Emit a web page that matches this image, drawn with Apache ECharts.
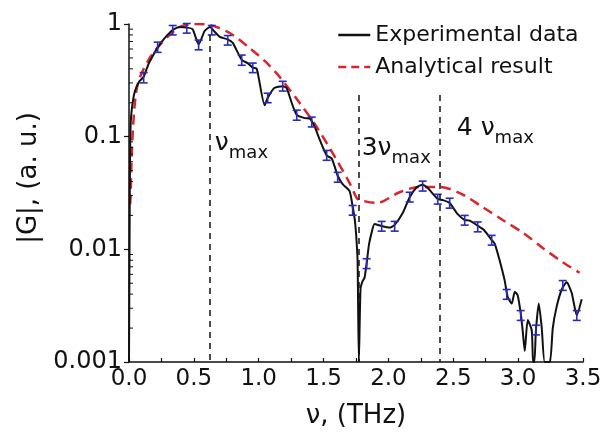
<!DOCTYPE html>
<html><head><meta charset="utf-8">
<script src="https://cdn.jsdelivr.net/npm/echarts@6/dist/echarts.min.js"></script>
<style>html,body{margin:0;padding:0;background:#fff}#c{width:603px;height:432px}</style>
</head><body><div id="c"></div>
<script>
const FONT = 'DejaVu Sans';
const BLACK = '#111111', RED = '#d8262c', BLUE = '#2a2ab8';

const xTickLabels = ['0.0','0.5','1.0','1.5','2.0','2.5','3.0','3.5'];
const yTickLabels = ['0.001','0.01','0.1','1'];
const yMinorTicks = [0.002,0.003,0.004,0.005,0.006,0.007,0.008,0.009,
                     0.02,0.03,0.04,0.05,0.06,0.07,0.08,0.09,
                     0.2,0.3,0.4,0.5,0.6,0.7,0.8,0.9];

// Experimental |G| vs frequency (THz)
const experimental = [
 [0.000,0.001],[0.006,0.03],[0.010,0.10],[0.018,0.16],[0.044,0.25],[0.080,0.31],[0.113,0.34],
 [0.150,0.44],[0.175,0.50],[0.221,0.62],[0.275,0.75],[0.337,0.885],[0.390,0.94],[0.445,0.93],
 [0.490,0.90],[0.537,0.66],[0.584,0.87],[0.625,0.94],[0.650,0.88],[0.700,0.77],[0.761,0.73],
 [0.800,0.68],[0.869,0.48],[0.915,0.45],[0.954,0.41],[0.985,0.40],[1.046,0.19],[1.069,0.22],
 [1.120,0.27],[1.185,0.28],[1.215,0.27],[1.254,0.20],[1.293,0.156],[1.354,0.146],[1.393,0.145],
 [1.432,0.122],[1.470,0.094],[1.524,0.068],[1.563,0.064],[1.609,0.045],[1.647,0.038],[1.700,0.033],
 [1.724,0.024],[1.740,0.0185],[1.750,0.014],[1.762,0.008],[1.772,0.001],[1.785,0.0045],[1.800,0.0052],
 [1.816,0.0056],[1.832,0.0075],[1.850,0.011],[1.870,0.014],[1.893,0.0168],[1.948,0.0161],[2.009,0.0156],
 [2.048,0.0165],[2.110,0.021],[2.164,0.029],[2.218,0.0355],[2.264,0.0375],[2.303,0.035],[2.380,0.028],
 [2.418,0.0274],[2.472,0.0258],[2.534,0.0205],[2.588,0.0182],[2.627,0.018],[2.688,0.0162],[2.735,0.0149],
 [2.796,0.0121],[2.820,0.0112],[2.857,0.008],[2.896,0.0053],[2.919,0.0038],[2.951,0.0033],[2.974,0.0042],
 [2.997,0.0039],[3.020,0.0027],[3.035,0.0019],[3.051,0.00125],[3.074,0.00236],[3.105,0.0019],[3.115,0.001],
 [3.125,0.001],[3.137,0.0019],[3.159,0.0033],[3.182,0.002],[3.205,0.001],[3.244,0.001],[3.267,0.002],
 [3.297,0.0031],[3.336,0.0044],[3.374,0.0051],[3.413,0.0041],[3.452,0.0026],[3.490,0.0036]
];

// Analytical result
const analytical = [
 [0.008,0.025],[0.013,0.030],[0.017,0.05],[0.030,0.115],[0.052,0.234],[0.082,0.332],[0.160,0.50],
 [0.237,0.65],[0.314,0.80],[0.390,0.94],[0.507,1.0],[0.622,0.98],[0.776,0.832],[0.930,0.612],
 [1.062,0.451],[1.162,0.338],[1.316,0.199],[1.447,0.122],[1.601,0.0621],[1.701,0.0387],[1.755,0.0286],
 [1.778,0.0274],[1.909,0.0258],[2.086,0.0321],[2.241,0.0358],[2.395,0.0358],[2.550,0.0316],
 [2.727,0.0237],[2.881,0.0182],[3.035,0.0141],[3.189,0.0103],[3.343,0.0077],[3.474,0.0062]
];

// Error bars: [frequency, low, high]
const errorBars = [
 [0.113,0.30,0.37],[0.221,0.56,0.69],[0.337,0.80,0.97],[0.445,0.83,1.01],[0.537,0.59,0.72],
 [0.638,0.80,0.97],[0.761,0.65,0.79],[0.869,0.43,0.53],[0.954,0.37,0.45],[1.069,0.20,0.243],
 [1.185,0.254,0.31],[1.293,0.140,0.172],[1.409,0.122,0.149],[1.524,0.0617,0.0754],[1.609,0.0394,0.0482],
 [1.724,0.0201,0.0245],[1.832,0.00675,0.00825],[1.948,0.0145,0.0177],[2.048,0.0145,0.0177],
 [2.164,0.0263,0.0321],[2.264,0.0329,0.0403],[2.380,0.0252,0.0308],[2.472,0.0232,0.0284],
 [2.588,0.0164,0.0200],[2.688,0.0143,0.0175],[2.796,0.0109,0.0133],[2.912,0.0036,0.0044],
 [3.020,0.00234,0.00286],[3.137,0.00174,0.00212],[3.344,0.00432,0.00528],[3.452,0.00234,0.00286]
];

// Vertical marker lines: [frequency, top value]
const markerLines = [[0.62,0.80],[1.773,0.234],[2.395,0.234]];
// Annotations: main text, subscript, [frequency, baseline value]
const annotations = [
 {main:'\u03bd', sub:'max', at:[0.662,0.0762]},
 {main:'3\u03bd', sub:'max', at:[1.794,0.0688]},
 {main:'4 \u03bd', sub:'max', at:[2.527,0.1035]}
];
const legendNames = ['Experimental data','Analytical result'];

const chart = echarts.init(document.getElementById('c'), null, {renderer:'canvas'});
const option = {
  animation:false,
  backgroundColor:'#fff',
  textStyle:{fontFamily:FONT},
  grid:{left:129, right:20, top:24, bottom:70, containLabel:false, outerBoundsMode:'none'},
  legend:{
    orient:'vertical', left:332, top:18, itemWidth:32, itemHeight:14, itemGap:8,
    data:[
      {name:legendNames[0], itemStyle:{opacity:0}, lineStyle:{color:BLACK, width:2.5, type:'solid'}},
      {name:legendNames[1], itemStyle:{opacity:0}, lineStyle:{color:RED, width:2.5, type:[8,5]}}
    ],
    textStyle:{fontSize:22, lineHeight:24, color:BLACK, fontFamily:FONT},
    selectedMode:false
  },
  xAxis:{
    type:'value', min:0, max:3.5, interval:0.5,
    name:'\u03bd, (THz)', nameLocation:'middle', nameGap:41,
    nameTextStyle:{fontSize:26, color:BLACK, fontFamily:FONT},
    axisLine:{lineStyle:{color:BLACK, width:1.5}},
    axisTick:{inside:true, length:4, lineStyle:{color:BLACK, width:1.2}},
    minorTick:{show:true, splitNumber:2, length:4, lineStyle:{color:BLACK, width:1.2}},
    axisLabel:{fontSize:23, color:BLACK, margin:6, fontFamily:FONT,
      formatter:(v, i) => xTickLabels[i] !== undefined ? xTickLabels[i] : v.toFixed(1)},
    splitLine:{show:false}
  },
  yAxis:{
    type:'log', logBase:10, min:0.001, max:1,
    name:'|G|, (a. u.)', nameLocation:'middle', nameGap:82,
    nameTextStyle:{fontSize:26, color:BLACK, fontFamily:FONT, padding:[0,0,0,30]},
    axisLine:{show:true, lineStyle:{color:BLACK, width:1.5}},
    axisTick:{show:true, inside:false, length:5, lineStyle:{color:BLACK, width:1.2}},
    axisLabel:{fontSize:24, color:BLACK, margin:7, fontFamily:FONT,
      formatter:(v, i) => yTickLabels[i] !== undefined ? yTickLabels[i] : String(v)},
    splitLine:{show:false}
  },
  series:[
    {
      name:legendNames[1], type:'line', data:analytical, showSymbol:false, symbol:'none',
      smooth:0.3, z:2,
      lineStyle:{color:RED, width:2.5, type:[10,6]}, itemStyle:{color:RED}
    },
    {
      name:legendNames[0], type:'line', data:experimental, showSymbol:false, symbol:'none',
      smooth:0.2, z:3,
      lineStyle:{color:BLACK, width:2}, itemStyle:{color:BLACK},
      markLine:{
        silent:true, symbol:['none','none'], animation:false,
        label:{show:false},
        lineStyle:{color:BLACK, width:1.5, type:[6,5]},
        data: markerLines.map(m => [{coord:[m[0], m[1]]}, {coord:[m[0], 0.001]}])
      }
    },
    {
      name:'errors', type:'custom', data:errorBars, z:4,
      encode:{x:0, y:[1,2]},
      renderItem:(params, api) => {
        const x = api.value(0);
        const pLo = api.coord([x, api.value(1)]);
        const pHi = api.coord([x, api.value(2)]);
        const w = 4;
        const st = {stroke:BLUE, lineWidth:1.6};
        return {type:'group', children:[
          {type:'line', shape:{x1:pLo[0], y1:pLo[1], x2:pHi[0], y2:pHi[1]}, style:st},
          {type:'line', shape:{x1:pLo[0]-w, y1:pLo[1], x2:pLo[0]+w, y2:pLo[1]}, style:st},
          {type:'line', shape:{x1:pHi[0]-w, y1:pHi[1], x2:pHi[0]+w, y2:pHi[1]}, style:st}
        ]};
      }
    },
    {
      name:'minorTicks', type:'custom', data:yMinorTicks.map(v => [0, v]), z:5, silent:true,
      encode:{x:0, y:1},
      renderItem:(params, api) => {
        const p = api.coord([0, api.value(1)]);
        return {type:'line', shape:{x1:p[0], y1:p[1], x2:p[0]+4, y2:p[1]},
                style:{stroke:BLACK, lineWidth:1}};
      }
    }
  ]
};
chart.setOption(option);

// Annotation labels positioned through the chart's own coordinate system
const ctx = document.createElement('canvas').getContext('2d');
const MAIN_SIZE = 25, SUB_SIZE = 18;
const graphics = [];
annotations.forEach(a => {
  const p = chart.convertToPixel({gridIndex:0}, a.at);
  ctx.font = MAIN_SIZE + 'px "' + FONT + '"';
  const w = ctx.measureText(a.main).width;
  graphics.push({type:'text', x:p[0], y:p[1] + Math.round(MAIN_SIZE*0.236), z:10,
    style:{text:a.main, fontSize:MAIN_SIZE, fontFamily:FONT, fill:BLACK, verticalAlign:'bottom', align:'left'}});
  graphics.push({type:'text', x:p[0] + w, y:p[1] + 8 + Math.round(SUB_SIZE*0.236), z:10,
    style:{text:a.sub, fontSize:SUB_SIZE, fontFamily:FONT, fill:BLACK, verticalAlign:'bottom', align:'left'}});
});
chart.setOption({graphic:graphics});
</script>
</body></html>
